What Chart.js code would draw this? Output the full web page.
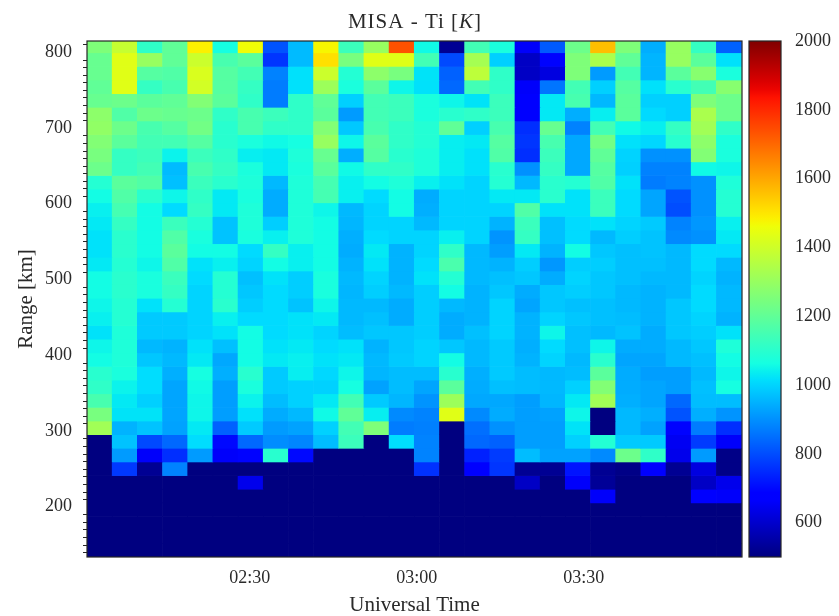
<!DOCTYPE html>
<html><head><meta charset="utf-8">
<style>html,body{margin:0;padding:0;background:#fff}
#wrap{position:relative;width:839px;height:616px;overflow:hidden}
canvas{filter:blur(0.45px)}
#main{position:absolute;left:0;top:0}#bar{position:absolute;left:700px;top:0}</style>
<script src="https://cdn.jsdelivr.net/npm/chart.js@4"></script></head>
<body><div id="wrap"><canvas id="main" width="839" height="616"></canvas><canvas id="bar" width="139" height="616"></canvas></div>
<script>
// range gate edges, km (top of each gate; gates are 18 km deep)
const gateTops=[817,799,781,763,745,727,709,691,673,655,637,619,601,583,565,547,529,511,493,475,457,439,421,403,385,367,349,331,313,295,277,259,241,223,205,187,169,151];
const gateBottoms=[799,781,763,745,727,709,691,673,655,637,619,601,583,565,547,529,511,493,475,457,439,421,403,385,367,349,331,313,295,277,259,241,223,205,187,169,151,133];
// centre of each time column, minutes after 00:00 UT
const times=[123.06,127.58,132.10,136.62,141.14,145.66,150.18,154.70,159.22,163.74,168.26,172.78,177.30,181.82,186.34,190.86,195.38,199.90,204.42,208.94,213.46,217.98,222.50,227.02,231.54,236.06];
const timeTicks=[150,180,210];
const timeTickLabels=['02:30','03:00','03:30'];
const rangeTicks=[200,300,400,500,600,700,800];
const colorTicks=[600,800,1000,1200,1400,1600,1800,2000];
const tiMin=500,tiMax=2000;
// Ti [K] per time column, top gate first
const t00=[1255,1212,1212,1200,1212,1282,1290,1262,1244,1222,1090,1060,1040,1030,1020,1020,1030,1060,1060,1050,1040,1020,1050,1060,1098,1110,1155,1244,1318,500,500,500,500,500,500,500,500,500];
const t01=[1385,1434,1434,1434,1222,1170,1222,1190,1120,1120,1190,1170,1150,1120,1100,1100,1090,1100,1100,1090,1090,1080,1080,1080,1072,1045,1030,1022,950,975,915,770,500,500,500,500,500,500];
const t02=[1110,1300,1180,1120,1190,1222,1155,1145,1132,1145,1170,1100,1060,1060,1060,1060,1050,1070,1070,1020,985,985,960,980,1012,1012,993,1022,975,795,660,525,500,500,500,500,500,500];
const t03=[1200,1200,1170,1155,1200,1212,1180,1145,1045,963,970,1050,1010,1130,1170,1190,1170,1130,1120,1090,985,985,950,960,945,930,930,930,925,840,755,880,500,500,500,500,500,500];
const t04=[1484,1395,1420,1408,1262,1222,1232,1180,1132,1155,1130,1110,1120,1090,1070,1060,1020,1010,1000,1000,1000,1000,1020,1030,1065,1055,1050,1050,1030,1012,915,500,500,500,500,500,500,500];
const t05=[1065,1155,1180,1180,1190,1110,1098,1098,1110,1120,1100,1030,1030,975,975,1060,1040,1090,1090,1100,1040,1020,970,935,945,920,920,920,830,700,660,500,500,500,500,500,500,500];
const t06=[1465,1190,1145,1120,1110,1155,1155,1072,1038,1072,1080,1070,1080,1080,1070,1010,1000,970,980,990,1010,1060,1060,1060,1098,1072,1045,1018,985,840,690,500,640,500,500,500,500,500];
const t07=[810,765,879,870,870,1132,1110,1055,1030,1030,960,940,940,990,1040,1120,1060,1020,1010,1010,1010,1010,1020,1030,985,985,965,940,915,895,1098,500,500,500,500,500,500,500];
const t08=[963,963,1018,1018,1110,1110,1110,1065,1080,1072,1080,1080,1080,1080,1080,1040,1040,990,990,975,1020,1020,1030,1040,1038,995,995,960,925,885,700,500,500,500,500,500,500,500];
const t09=[1475,1510,1395,1310,1200,1190,1262,1300,1212,1190,1150,1150,1050,1060,1060,1060,1060,1070,1070,1050,1030,1000,1010,1020,1005,995,1030,1055,995,965,500,500,500,500,500,500,500,500];
const t10=[1132,1244,1088,1072,993,915,982,1050,943,1055,1040,1040,960,955,945,940,950,960,955,960,960,965,1020,1030,1050,1065,1145,1200,1145,1132,500,500,500,500,500,500,500,500];
const t11=[1300,1434,1282,1190,1145,1145,1155,1190,1180,1110,1060,1010,1000,1000,1010,1030,1020,1000,990,960,970,980,950,960,955,925,985,1038,1255,500,500,500,500,500,500,500,500,500];
const t12=[1737,1434,1244,1050,1132,1132,1110,1110,1098,1110,1080,1060,1060,1000,1000,950,950,950,960,940,940,980,980,985,965,965,955,890,870,1012,500,500,500,500,500,500,500,500];
const t13=[1055,1145,1022,1018,1072,1072,1088,1088,1080,1080,1040,940,945,960,1000,1000,1010,1020,990,990,990,990,1000,1000,965,930,905,880,875,880,880,760,500,500,500,500,500,500];
const t14=[525,795,830,840,1050,1098,1200,1038,1038,1038,1020,1000,1000,1000,1040,1110,1160,1090,1060,960,940,940,980,1060,1098,1190,1310,1434,500,500,500,500,500,500,500,500,500,500];
const t15=[1145,1325,1370,1145,1022,1110,993,1030,1018,1018,1000,1000,1000,1000,1000,960,960,960,950,950,950,970,960,960,945,940,935,890,850,840,735,670,500,500,500,500,500,500];
const t16=[1072,993,1110,1110,1132,1132,1155,1180,1170,1098,1090,1030,1000,950,905,920,950,970,980,1000,1000,1000,985,985,985,970,935,940,900,830,775,765,500,500,500,500,500,500];
const t17=[660,590,590,660,670,680,755,765,755,900,960,1030,1170,1130,1120,1030,990,980,940,930,950,950,945,950,965,965,920,920,920,920,965,525,590,500,500,500,500,500];
const t18=[820,690,625,860,1030,1030,1212,1155,1132,1120,1100,1100,1020,970,970,950,910,940,980,980,1000,1050,1010,1000,960,960,955,925,920,920,925,525,500,500,500,500,500,500];
const t19=[1222,1255,1255,1145,1155,943,879,935,935,935,1090,1020,1020,1010,1010,1060,990,1000,990,970,980,970,970,960,965,995,1030,1050,1022,995,925,715,660,500,500,500,500,500];
const t20=[1563,1335,915,993,958,1038,1145,1232,1200,1180,1170,1130,1130,1020,960,980,990,980,980,970,970,960,1050,1100,1190,1262,1318,500,500,1088,890,525,530,660,500,500,500,500];
const t21=[1255,1200,1145,1180,1190,1190,1055,1018,998,993,1020,1010,1010,1000,990,970,970,970,960,960,965,975,940,930,940,940,945,960,960,985,1222,510,500,500,500,500,500,500];
const t22=[943,953,953,1018,993,1008,1038,1003,900,879,870,930,930,985,975,975,970,960,950,950,950,940,940,930,920,930,930,945,925,985,1110,680,500,500,500,500,500,500];
const t23=[1300,1300,1190,1098,993,993,1120,1098,900,879,880,810,800,880,890,960,960,960,960,980,980,980,960,960,920,920,840,810,690,650,640,525,500,500,500,500,500,500];
const t24=[1120,1190,1272,1145,1255,1335,1318,1282,1262,1055,900,900,900,910,900,1010,1010,1000,1010,1010,1000,990,980,970,960,970,965,945,870,775,915,625,590,680,500,500,500,500];
const t25=[830,1018,1072,1272,1222,1222,1110,1072,1072,1050,1080,1090,1090,1040,1030,1010,960,950,960,960,950,1020,1080,1060,1050,1065,965,905,755,660,510,510,640,660,500,500,500,500];
const tiColumns=[t00,t01,t02,t03,t04,t05,t06,t07,t08,t09,t10,t11,t12,t13,t14,t15,t16,t17,t18,t19,t20,t21,t22,t23,t24,t25];

function lerp(stops,t){for(let i=1;i<stops.length;i++){if(t<=stops[i][0]){const a=stops[i-1],b=stops[i];return a[1]+(b[1]-a[1])*(t-a[0])/(b[0]-a[0]);}}return stops[stops.length-1][1];}
const jR=[[0,0],[.35,0],[.66,1],[.89,1],[1,.5]],jG=[[0,0],[.125,0],[.375,1],[.64,1],[.91,0],[1,0]],jB=[[0,.5],[.11,1],[.34,1],[.65,0],[1,0]];
function jet(v){const t=Math.min(1,Math.max(0,(v-tiMin)/(tiMax-tiMin)));return 'rgb('+[jR,jG,jB].map(s=>Math.round(255*lerp(s,t))).join(',')+')';}

const SERIF='"Liberation Serif",serif',INK='#2a2a2a',FRAME='#262626';
const frame=(chart,ctx)=>{const a=chart.chartArea;ctx.save();ctx.strokeStyle=FRAME;ctx.lineWidth=1.2;ctx.strokeRect(a.left,a.top,a.right-a.left,a.bottom-a.top);ctx.restore();};

const mainDecor={id:'mainDecor',afterDraw(chart){
  const ctx=chart.ctx,y=chart.scales.y,a=chart.chartArea;
  frame(chart,ctx);
  ctx.save();ctx.strokeStyle=FRAME;ctx.lineWidth=1;ctx.beginPath();
  for(let v=140;v<=810;v+=10){if(v%100===0)continue;const p=Math.round(y.getPixelForValue(v))+.5;ctx.moveTo(a.left-4,p);ctx.lineTo(a.left,p);}
  ctx.stroke();
  const parts=[['MISA - Ti [',''],['K','italic '],[']','']];
  ctx.fillStyle=INK;ctx.textBaseline='alphabetic';ctx.textAlign='left';
  ctx.letterSpacing='1px';
  let w=0;parts.forEach(p=>{ctx.font=p[1]+'21px '+SERIF;w+=ctx.measureText(p[0]).width;});
  let x=415-w/2;
  parts.forEach(p=>{ctx.font=p[1]+'21px '+SERIF;ctx.fillText(p[0],x,28);x+=ctx.measureText(p[0]).width;});
  ctx.restore();
}};

const datasets=gateTops.map((top,r)=>({
  label:top+' km',
  data:times.map((t,c)=>({x:t,y:[gateBottoms[r],top]})),
  backgroundColor:tiColumns.map(col=>jet(col[r])),
  borderWidth:0,barPercentage:1,categoryPercentage:1,grouped:false
}));

new Chart(document.getElementById('main'),{type:'bar',data:{datasets},plugins:[mainDecor],options:{
  responsive:false,animation:false,
  layout:{padding:{top:41,right:97,bottom:0,left:0}},
  plugins:{legend:{display:false},tooltip:{enabled:false},title:{display:false}},
  scales:{
    x:{type:'linear',min:120.8,max:238.4,offset:false,grid:{display:false,drawTicks:true,tickLength:4,tickColor:FRAME},border:{display:false},
      afterBuildTicks(s){s.ticks=timeTicks.map(v=>({value:v}));},
      afterFit(s){s.height=59;},
      ticks:{maxRotation:0,autoSkip:false,padding:6,color:INK,font:{family:SERIF,size:18},callback:(v)=>timeTickLabels[timeTicks.indexOf(v)]},
      title:{display:true,text:'Universal Time',color:INK,font:{family:SERIF,size:21},padding:{top:1,bottom:-2}}},
    y:{type:'linear',min:133.6,max:814.5,grid:{display:false,drawTicks:true,tickLength:6,tickColor:FRAME},border:{display:false},
      afterBuildTicks(s){s.ticks=rangeTicks.map(v=>({value:v}));},
      afterFit(s){s.width=87;},
      ticks:{autoSkip:false,padding:9,color:INK,font:{family:SERIF,size:18},callback:(v)=>String(v)},
      title:{display:true,text:'Range [km]',color:INK,font:{family:SERIF,size:21},padding:{top:14,bottom:0}}}
  }
}});

// colour bar: one bar from tiMin to tiMax, painted with the jet ramp
function jetGradient(context){
  const a=context.chart.chartArea;
  if(!a)return jet(tiMin);
  const g=context.chart.ctx.createLinearGradient(0,a.bottom,0,a.top);
  for(let i=0;i<=64;i++){g.addColorStop(i/64,jet(tiMin+(tiMax-tiMin)*i/64));}
  return g;
}
new Chart(document.getElementById('bar'),{type:'bar',
  data:{labels:['Ti'],datasets:[{data:[[tiMin,tiMax]],backgroundColor:jetGradient,borderWidth:0,barPercentage:1,categoryPercentage:1}]},
  plugins:[{id:'cbFrame',afterDraw(chart){frame(chart,chart.ctx);}}],
  options:{responsive:false,animation:false,
    layout:{padding:{top:41,left:49,right:0,bottom:59}},
    plugins:{legend:{display:false},tooltip:{enabled:false}},
    scales:{
      x:{display:false},
      y:{position:'right',min:tiMin,max:tiMax,grid:{display:false,drawTicks:true,tickLength:7,tickColor:FRAME},border:{display:false},
        afterBuildTicks(s){s.ticks=colorTicks.map(v=>({value:v}));},
        afterFit(s){s.width=58;},
        ticks:{autoSkip:false,padding:7,color:INK,font:{family:SERIF,size:18},callback:(v)=>String(v)}}
    }}});
</script></body></html>
